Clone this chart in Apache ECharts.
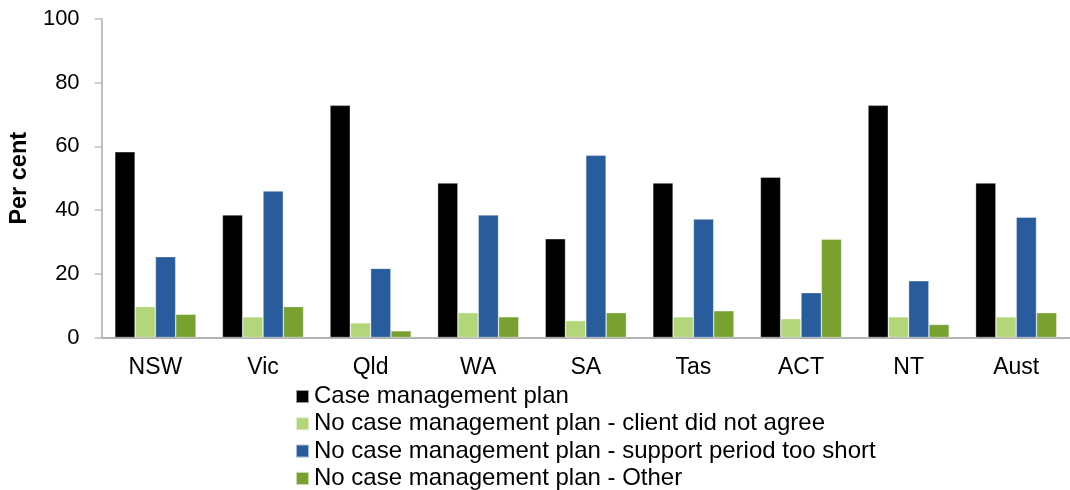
<!DOCTYPE html>
<html>
<head>
<meta charset="utf-8">
<script src="https://cdn.jsdelivr.net/npm/echarts@6/dist/echarts.min.js"></script>
<style>
  html, body { margin: 0; padding: 0; background: #fff; }
  #chart { width: 1070px; height: 490px; }
</style>
</head>
<body>
<div id="chart"></div>
<script>
// data
const states = ['NSW', 'Vic', 'Qld', 'WA', 'SA', 'Tas', 'ACT', 'NT', 'Aust']
const casePlan = [58.3, 38.5, 72.9, 48.5, 31.0, 48.5, 50.3, 72.9, 48.5]
const noPlanDisagree = [9.7, 6.5, 4.6, 7.8, 5.3, 6.5, 5.9, 6.5, 6.5]
const noPlanShort = [25.4, 46.0, 21.7, 38.5, 57.2, 37.2, 14.1, 17.8, 37.8]
const noPlanOther = [7.3, 9.7, 2.1, 6.5, 7.8, 8.4, 30.9, 4.1, 7.8]
const yTicks = [0, 20, 40, 60, 80, 100]

const seriesNames = [
  'Case management plan',
  'No case management plan - client did not agree',
  'No case management plan - support period too short',
  'No case management plan - Other'
]
const colors = ['#000000', '#b3d67a', '#285c9c', '#78a130']
const values = [casePlan, noPlanDisagree, noPlanShort, noPlanOther]

const font = 'Liberation Sans, Arial, sans-serif'

const myChart = echarts.init(document.getElementById('chart'))

const option = {
  animation: false,
  textStyle: { fontFamily: font },
  grid: { left: 101, top: 19, width: 979, height: 318.5, containLabel: false },
  legend: {
    orient: 'vertical',
    left: 295,
    top: 384.5,
    height: 130,
    padding: 0,
    itemWidth: 13,
    itemHeight: 13,
    itemGap: 3.3,
    icon: 'rect',
    textStyle: { fontSize: 24, color: '#000', fontFamily: font },
    data: seriesNames
  },
  xAxis: {
    type: 'category',
    data: states,
    axisLine: { lineStyle: { color: '#b4b4b4', width: 2 } },
    axisTick: { show: false },
    axisLabel: { fontSize: 23, color: '#000', margin: 19, fontFamily: font }
  },
  yAxis: {
    type: 'value',
    min: yTicks[0],
    max: yTicks[yTicks.length - 1],
    interval: 20,
    name: 'Per cent',
    nameLocation: 'middle',
    nameGap: 66,
    nameTextStyle: { fontSize: 23.5, fontWeight: 'bold', color: '#000', fontFamily: font },
    axisLine: { show: true, lineStyle: { color: '#c0c0c0', width: 2 } },
    axisTick: { show: true, length: 7, lineStyle: { color: '#c0c0c0', width: 1.5 } },
    splitLine: { show: false },
    axisLabel: { fontSize: 22, color: '#000', margin: 22, fontFamily: font }
  },
  series: seriesNames.map((name, i) => ({
    name: name,
    type: 'bar',
    data: values[i],
    barWidth: 20.3,
    barGap: '0%',
    itemStyle: { color: colors[i], borderColor: 'rgba(255,255,255,0.6)', borderWidth: 0.6 }
  }))
}

myChart.setOption(option)
</script>
</body>
</html>
